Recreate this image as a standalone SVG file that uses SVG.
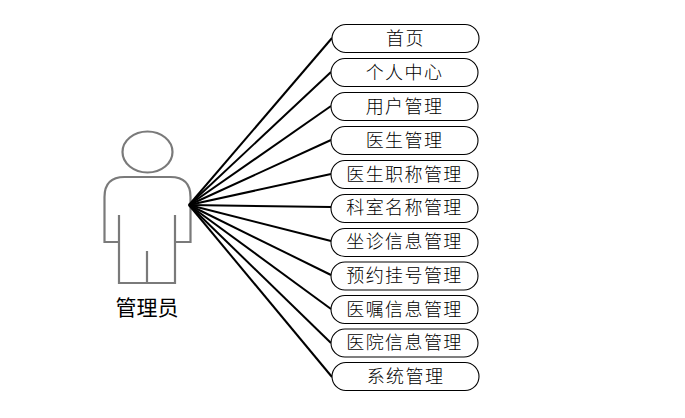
<svg xmlns="http://www.w3.org/2000/svg" width="685" height="418" viewBox="0 0 685 418">
<style>
.box{fill:#fff;stroke:#000;stroke-width:1.1}
.t{font-family:"Noto Sans CJK SC","Noto Sans CJK JP",sans-serif;font-size:18px;font-weight:300;fill:#000;text-anchor:middle;letter-spacing:1.400px}
.c line{stroke:#000;stroke-width:2}
.p{fill:none;stroke:#7a7a7a;stroke-width:2.200}
</style>
<rect width="685" height="418" fill="#fff"/>
<g id="actor">
<ellipse class="p" cx="147.500" cy="152" rx="25" ry="20.500"/>
<path class="p" d="M119 215V242H104.500V197Q104.500 177 124.500 177H170.500Q190.500 177 190.500 197V242H175V215M119 242V283H175V242M147 251V283"/>
<text x="147" y="315" style="font-family:'Noto Sans CJK SC',sans-serif;font-size:21px;font-weight:400;text-anchor:middle;fill:#000">管理员</text>
</g>
<g id="connectors" class="c">
<line x1="189" y1="205" x2="332" y2="38"/>
<line x1="189" y1="205" x2="331" y2="72"/>
<line x1="189" y1="205" x2="331" y2="106"/>
<line x1="189" y1="205" x2="331" y2="140"/>
<line x1="189" y1="205" x2="331" y2="174"/>
<line x1="189" y1="205" x2="331" y2="207"/>
<line x1="189" y1="205" x2="331" y2="241"/>
<line x1="189" y1="205" x2="331" y2="275"/>
<line x1="189" y1="205" x2="331" y2="309"/>
<line x1="189" y1="205" x2="331" y2="343"/>
<line x1="189" y1="205" x2="332" y2="377"/>
</g>
<g id="n1"><rect class="box" x="332" y="24.500" width="147" height="28" rx="14"/><text class="t" x="405.500" y="44.500">首页</text></g>
<g id="n2"><rect class="box" x="331" y="58.500" width="147" height="28" rx="14"/><text class="t" x="404.500" y="78.500">个人中心</text></g>
<g id="n3"><rect class="box" x="331" y="92.500" width="147" height="28" rx="14"/><text class="t" x="404.500" y="112.500">用户管理</text></g>
<g id="n4"><rect class="box" x="331" y="126.500" width="147" height="28" rx="14"/><text class="t" x="404.500" y="146.500">医生管理</text></g>
<g id="n5"><rect class="box" x="331" y="160.500" width="147" height="28" rx="14"/><text class="t" x="404.500" y="180.500">医生职称管理</text></g>
<g id="n6"><rect class="box" x="331" y="194.500" width="147" height="28" rx="14"/><text class="t" x="404.500" y="214">科室名称管理</text></g>
<g id="n7"><rect class="box" x="331" y="228.500" width="147" height="28" rx="14"/><text class="t" x="404.500" y="248">坐诊信息管理</text></g>
<g id="n8"><rect class="box" x="331" y="262" width="147" height="28" rx="14"/><text class="t" x="404.500" y="282">预约挂号管理</text></g>
<g id="n9"><rect class="box" x="331" y="295.500" width="147" height="28" rx="14"/><text class="t" x="404.500" y="315.500">医嘱信息管理</text></g>
<g id="n10"><rect class="box" x="331" y="329" width="147" height="28" rx="14"/><text class="t" x="404.500" y="349">医院信息管理</text></g>
<g id="n11"><rect class="box" x="332" y="362.500" width="147" height="28" rx="14"/><text class="t" x="405.500" y="382.500">系统管理</text></g>
</svg>
